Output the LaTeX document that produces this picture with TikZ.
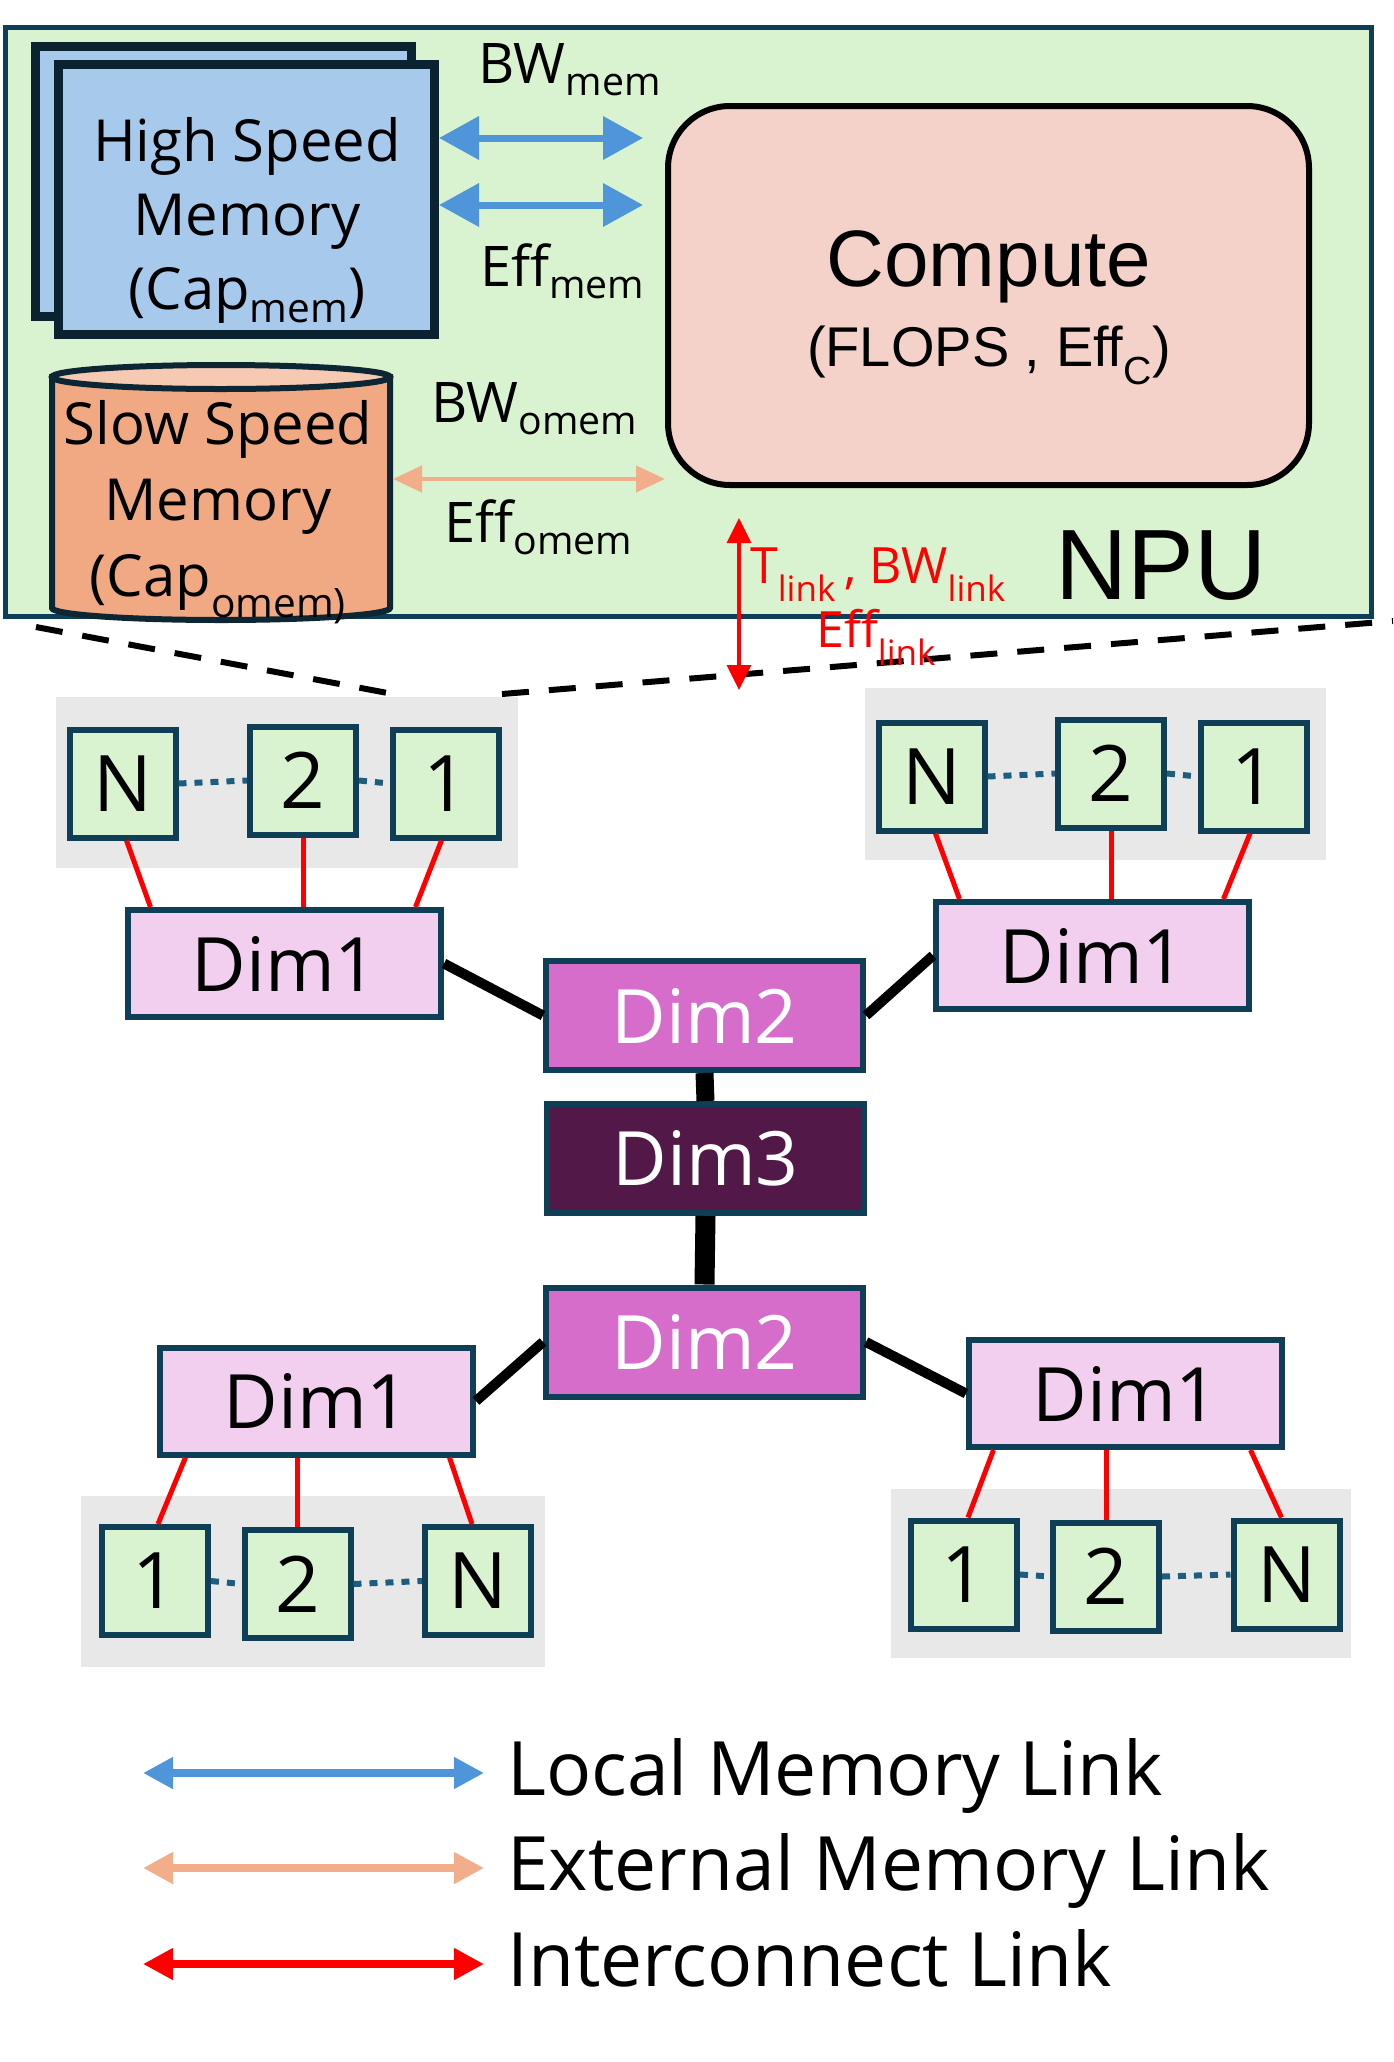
\documentclass[tikz,border=0pt]{standalone}
\usepackage{fontspec}
\setmainfont{Open Sans}
\newfontfamily\arialfont{Liberation Sans}
\usetikzlibrary{arrows.meta, positioning}
\definecolor{npug}{HTML}{D9F2D0}
\definecolor{npud}{HTML}{0F3E58}
\definecolor{hsmf}{HTML}{A6C9EC}
\definecolor{hsmd}{HTML}{0B2230}
\definecolor{slowf}{HTML}{F1A983}
\definecolor{slowt}{HTML}{F6CAB2}
\definecolor{slowd}{HTML}{0D2633}
\definecolor{compf}{HTML}{F4D1C9}
\definecolor{memb}{HTML}{4E95D9}
\definecolor{memo}{HTML}{F2AE8A}
\definecolor{celld}{HTML}{0E3F56}
\definecolor{panelg}{HTML}{E8E8E8}
\definecolor{dimone}{HTML}{F2CEEF}
\definecolor{dimtwo}{HTML}{D76DCB}
\definecolor{dimthree}{HTML}{511848}
\definecolor{dott}{HTML}{1D5E7E}

\begin{document}
\begin{tikzpicture}[x=1pt, y=-1pt,
            npubox/.style={draw=npud, fill=npug, line width=5pt, inner sep=0pt,
                minimum width=1366pt, minimum height=589pt},
            hsmbox/.style={draw=hsmd, fill=hsmf, line width=9pt, inner sep=0pt,
                minimum width=376pt, minimum height=270pt},
            compbox/.style={draw=black, fill=compf, line width=6pt, inner sep=0pt,
                rounded corners=62pt, minimum width=641pt, minimum height=379pt},
            memtxt/.style={align=center, inner sep=0pt, font=\fontsize{58}{74}\selectfont},
            lbl/.style={anchor=base west, inner sep=0pt, font=\fontsize{56}{60}\selectfont},
            redlbl/.style={lbl, text=red, font=\fontsize{50}{55}\selectfont},
            legtxt/.style={lbl, font=\fontsize{75}{80}\selectfont},
            cell/.style={draw=celld, fill=npug, line width=6pt, inner sep=0pt,
                minimum width=106pt, minimum height=108pt, font=\fontsize{78}{80}\selectfont},
            dimbox/.style={draw=celld, line width=6pt, inner sep=0pt,
                minimum width=317pt, minimum height=109pt, font=\fontsize{75}{80}\selectfont},
            panel/.style={fill=panelg, inner sep=0pt},
            memlink/.style={draw=memb, line width=7pt,
                {Triangle[length=40pt, width=42pt]}-{Triangle[length=40pt, width=42pt]}},
            omemlink/.style={draw=memo, line width=4.5pt,
                {Triangle[length=29pt, width=26pt]}-{Triangle[length=29pt, width=26pt]}},
            iclink/.style={draw=red, line width=3.5pt,
                {Triangle[length=25pt, width=24pt]}-{Triangle[length=25pt, width=24pt]}},
            legarrow/.style={line width=8pt,
                {Triangle[length=30pt, width=30pt]}-{Triangle[length=30pt, width=30pt]}},
            redline/.style={draw=red, line width=5pt},
            dimline/.style={draw=black, line width=10pt},
            dots/.style={draw=dott, line width=6pt, dash pattern=on 8pt off 8pt},
            zoomline/.style={draw=black, line width=6pt, dash pattern=on 27pt off 20pt}]
        \useasboundingbox (0,0) rectangle (1393,2062);

        % the NPU
        \node[npubox] (npu) at (688.5,322) {};
        \node[hsmbox] (hsmback) at (223,181.5) {};
        \node[hsmbox] (hsm) at (246.5,199.5) {};
        \node[memtxt] (hsmtxt) at (247,220) {High Speed\\Memory\\(Cap\textsubscript{mem})};

        \draw[slowd, fill=slowf, line width=6pt] (52,377) -- (52,608)
            arc[start angle=180, end angle=360, x radius=169pt, y radius=12pt] -- (390,377) -- cycle;
        \draw[slowd, fill=slowt, line width=6pt] (221,377) ellipse [x radius=169pt, y radius=12pt];
        \node[memtxt, font=\fontsize{58}{76}\selectfont] (slow) at (218,512) {Slow Speed\\Memory\\(Cap\textsubscript{omem)}};
        \coordinate (slowE) at (393,479);

        \node[compbox] (comp) at (988.5,295.5) {};
        \node[anchor=base, inner sep=0pt, font=\arialfont\fontsize{80}{80}\selectfont] (comptitle) at (989,286) {Compute};
        \node[anchor=base, inner sep=0pt, font=\arialfont\fontsize{56}{60}\selectfont] (compsub) at (989,366) {(FLOPS , Eff\textsubscript{C})};
        \node[anchor=base west, inner sep=0pt, font=\arialfont\fontsize{100}{100}\selectfont] (npulbl) at (1055,599) {NPU};

        \node[lbl] (bwmem) at (478,83) {BW\textsubscript{mem}};
        \node[lbl] (effmem) at (480,286) {Eff\textsubscript{mem}};
        \node[lbl] (bwomem) at (431,422) {BW\textsubscript{omem}};
        \node[lbl] (effomem) at (444,542) {Eff\textsubscript{omem}};

        \coordinate (bwa) at ([yshift=61.5pt]hsm.east);
        \coordinate (bwb) at ([yshift=-5.5pt]hsm.east);
        \draw[memlink, shorten >=22pt] (bwa) -- (bwa -| comp.west);
        \draw[memlink, shorten >=22pt] (bwb) -- (bwb -| comp.west);
        \draw[omemlink] (slowE) -- (slowE -| comp.west);

        % zoom lines
        \coordinate (zl1) at (36,627);
        \coordinate (zl2) at (393,694);
        \coordinate (zr1) at (502,694);
        \coordinate (zr2) at (1393,621);
        \draw[zoomline] (zl1) -- (zl2);
        \draw[zoomline] (zr1) -- (zr2);

        \coordinate (lnkbot) at (739,690);
        \draw[iclink, shorten <=30pt] (lnkbot |- comp.south) -- (lnkbot);
        \node[redlbl] (lnka) at (750,583) {T\textsubscript{link}\,, BW\textsubscript{link}};
        \node[redlbl] (lnkb) at (816,647) {Eff\textsubscript{link}};

        % groups of NPUs
        \node[panel, minimum width=462pt, minimum height=171pt] (ptl) at (287,782.5) {};
        \node[panel, minimum width=461pt, minimum height=172pt] (ptr) at (1095.5,774) {};
        \node[panel, minimum width=464pt, minimum height=171pt] (pbl) at (313,1581.5) {};
        \node[panel, minimum width=460pt, minimum height=169pt] (pbr) at (1121,1573.5) {};

        \node[cell] (tlN) at (122.5,783.5) {N};
        \node[cell] (tl2) at (303,780.5) {2};
        \node[cell] (tl1) at (445.5,783.5) {1};
        \node[cell] (trN) at (931.5,776.5) {N};
        \node[cell] (tr2) at (1111,773.5) {2};
        \node[cell] (tr1) at (1254,776.5) {1};
        \node[cell] (bl1) at (155,1581) {1};
        \node[cell] (bl2) at (297.5,1584) {2};
        \node[cell] (blN) at (478,1581) {N};
        \node[cell] (br1) at (964,1574.5) {1};
        \node[cell] (br2) at (1106,1576.5) {2};
        \node[cell] (brN) at (1286.5,1574.5) {N};

        \draw[dots] (tlN.east) -- (tl2.west);
        \draw[dots] (tl2.east) -- (tl1.west);
        \draw[dots] (trN.east) -- (tr2.west);
        \draw[dots] (tr2.east) -- (tr1.west);
        \draw[dots] (bl1.east) -- (bl2.west);
        \draw[dots] (bl2.east) -- (blN.west);
        \draw[dots] (br1.east) -- (br2.west);
        \draw[dots] (br2.east) -- (brN.west);

        \node[dimbox, fill=dimone, minimum width=313pt, minimum height=107pt] (dtl) at (284.5,963.5) {Dim1};
        \node[dimbox, fill=dimone, minimum width=313pt, minimum height=107pt] (dtr) at (1092.5,955.5) {Dim1};
        \node[dimbox, fill=dimone, minimum width=313pt, minimum height=107pt] (dbl) at (316.5,1401) {Dim1};
        \node[dimbox, fill=dimone, minimum width=313pt, minimum height=107pt] (dbr) at (1125.5,1393.5) {Dim1};
        \node[dimbox, fill=dimtwo, text=white] (dtwoa) at (704.5,1015.5) {Dim2};
        \node[dimbox, fill=dimthree, text=white] (dthree) at (705.5,1158.5) {Dim3};
        \node[dimbox, fill=dimtwo, text=white] (dtwob) at (704.5,1342) {Dim2};

        \draw[redline] ([xshift=4pt]tlN.south) -- ([xshift=-134pt]dtl.north);
        \draw[redline] (tl2.south) -- (tl2.south |- dtl.north);
        \draw[redline] ([xshift=-4pt]tl1.south) -- ([xshift=131pt]dtl.north);
        \draw[redline] ([xshift=4pt]trN.south) -- ([xshift=-133pt]dtr.north);
        \draw[redline] (tr2.south) -- (tr2.south |- dtr.north);
        \draw[redline] ([xshift=-4pt]tr1.south) -- ([xshift=131pt]dtr.north);
        \draw[redline] ([xshift=-131pt]dbl.south) -- ([xshift=3pt]bl1.north);
        \draw[redline] (bl2.north) -- (bl2.north |- dbl.south);
        \draw[redline] ([xshift=133pt]dbl.south) -- ([xshift=-6pt]blN.north);
        \draw[redline] ([xshift=-132pt]dbr.south) -- ([xshift=4pt]br1.north);
        \draw[redline] (br2.north) -- (br2.north |- dbr.south);
        \draw[redline] ([xshift=125pt]dbr.south) -- ([xshift=-5pt]brN.north);

        \draw[dimline] (dtl.east) -- (dtwoa.west);
        \draw[dimline] (dtwoa.east) -- (dtr.west);
        \draw[dimline] (dbl.east) -- (dtwob.west);
        \draw[dimline] (dtwob.east) -- (dbr.west);
        \draw[dimline, line width=18pt] (dtwoa.south) -- (dthree.north);
        \draw[dimline, line width=20pt] (dthree.south) -- (dtwob.north);

        % legend
        \coordinate (lga) at (143,1773);
        \coordinate (lgb) at (484,1773);
        \coordinate (lgc) at (143,1868);
        \coordinate (lgd) at (484,1868);
        \coordinate (lge) at (143,1964);
        \coordinate (lgf) at (484,1964);
        \draw[legarrow, memb] (lga) -- (lgb);
        \draw[legarrow, memo] (lgc) -- (lgd);
        \draw[legarrow, red] (lge) -- (lgf);
        \node[legtxt] (leglocal) at (507,1795) {Local Memory Link};
        \node[legtxt] (legext) at (507,1890) {External Memory Link};
        \node[legtxt] (legic) at (507,1986) {Interconnect Link};
    \end{tikzpicture}
\end{document}
